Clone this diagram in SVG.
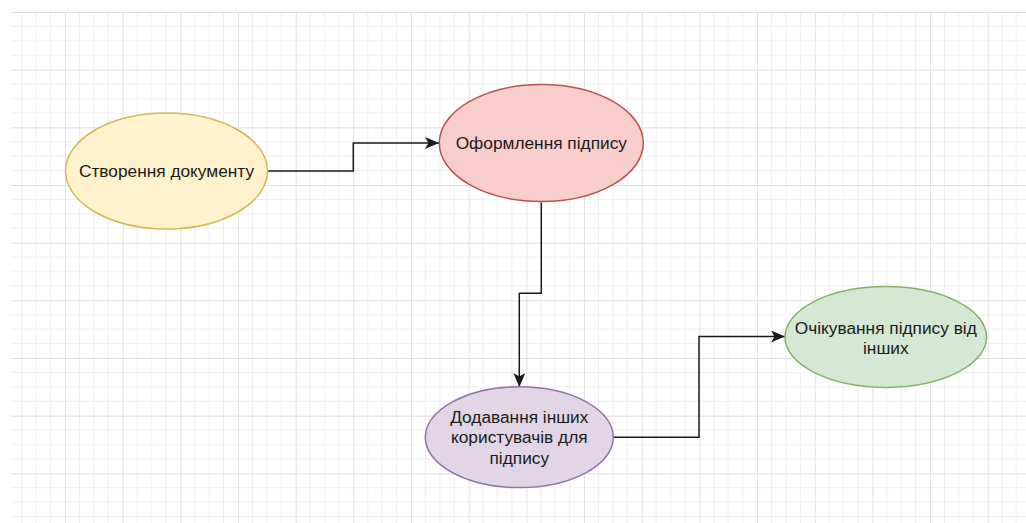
<svg xmlns="http://www.w3.org/2000/svg" width="1026" height="523" viewBox="0 0 1026 523">
<style>
.lbl{font-family:"Liberation Sans",Arial,Helvetica,sans-serif;font-size:17.3px;fill:#1a1a1a;text-anchor:middle;dominant-baseline:central}
.edge{fill:none;stroke:#1a1a1a;stroke-width:1.5;marker-end:url(#arr)}
.node{stroke-width:1.5}
</style>
<defs>
<pattern id="grid" patternUnits="userSpaceOnUse" x="7.33" y="12" width="57.67" height="57.67">
<path d="M14.42 0V57.67M28.83 0V57.67M43.25 0V57.67M0 14.42H57.67M0 28.83H57.67M0 43.25H57.67" stroke="#f0f0f0" stroke-width="1" fill="none"/>
<path d="M0.5 0V57.67M0 0.5H57.67" stroke="#e1e1e1" stroke-width="1" fill="none"/>
</pattern>
<marker id="arr" markerUnits="userSpaceOnUse" markerWidth="16" markerHeight="14" refX="14" refY="6" orient="auto">
<path d="M0,0 L14,6 L0,12 L3.5,6 Z" fill="#1a1a1a"/>
</marker>
</defs>
<rect width="1026" height="523" fill="#ffffff"/>
<rect x="11" y="12" width="1015" height="511" fill="url(#grid)"/>
<g id="connectors">
<path class="edge" d="M267.5 171H353.3V143H439"/>
<path class="edge" d="M541.3 202.5V293.3H519.3V387"/>
<path class="edge" d="M613.3 437.2H699V336.5H785"/>
</g>
<g id="n1">
<ellipse class="node" cx="166.5" cy="171" rx="101" ry="58" fill="#fff2cc" stroke="#d6b656"/>
<text class="lbl" x="166.5" y="171">Створення документу</text>
</g>
<g id="n2">
<ellipse class="node" cx="541.3" cy="143" rx="102" ry="58.5" fill="#f8cecc" stroke="#b85450"/>
<text class="lbl" x="541.3" y="143">Оформлення підпису</text>
</g>
<g id="n3">
<ellipse class="node" cx="519.3" cy="437.2" rx="94" ry="50.4" fill="#e1d5e7" stroke="#9673a6"/>
<text class="lbl" x="519.3" y="416.5">Додавання інших</text>
<text class="lbl" x="519.3" y="437.2">користувачів для</text>
<text class="lbl" x="519.3" y="457.9">підпису</text>
</g>
<g id="n4">
<ellipse class="node" cx="885.8" cy="337" rx="100.8" ry="50.4" fill="#d5e8d4" stroke="#82b366"/>
<text class="lbl" x="885.8" y="327.5">Очікування підпису від</text>
<text class="lbl" x="885.8" y="348.2">інших</text>
</g>
</svg>
